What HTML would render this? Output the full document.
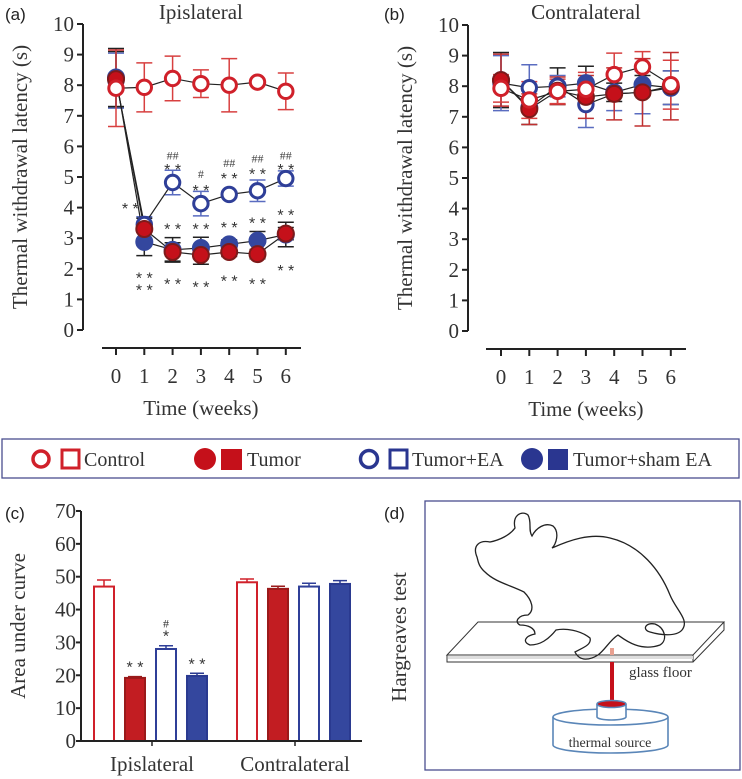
<!DOCTYPE html>
<html><head><meta charset="utf-8"><style>
html,body{margin:0;padding:0;background:#fff;overflow:hidden;width:742px;height:779px}
svg{display:block;font-family:"Liberation Serif",serif}
.sans{font-family:"Liberation Sans",sans-serif}
</style></head><body>
<svg id="fig" width="742" height="779" viewBox="0 0 742 779">
<g id="pa"></g>
<g id="pb"></g>
<g id="leg">
 <rect x="2" y="439" width="737" height="39" fill="none" stroke="#4a4f8f" stroke-width="1.3"/>
 <g>
  <circle cx="41" cy="459" r="8" fill="#fff" stroke="#d0202a" stroke-width="3.5"/>
  <rect x="62" y="450" width="17" height="18" fill="#fff" stroke="#d0202a" stroke-width="3"/>
  <text x="84" y="466" font-size="20" fill="#333">Control</text></g>
 <g>
  <circle cx="205" cy="459" r="11" fill="#c5101a"/>
  <rect x="221" y="449" width="21" height="21" fill="#c5101a"/>
  <text x="247" y="466" font-size="20" fill="#333">Tumor</text></g>
 <g>
  <circle cx="369" cy="459" r="8.5" fill="#fff" stroke="#2a3690" stroke-width="3.5"/>
  <rect x="390" y="450" width="17" height="18" fill="#fff" stroke="#2a3690" stroke-width="3"/>
  <text x="412" y="466" font-size="20" fill="#333">Tumor+EA</text></g>
 <g>
  <circle cx="532" cy="459" r="11" fill="#2a3690"/>
  <rect x="548" y="449" width="20" height="21" fill="#2a3690"/>
  <text x="573" y="466" font-size="20" fill="#333">Tumor+sham EA</text></g>
</g>
<g id="pc"></g>
<g id="pd">
 <rect x="425" y="501" width="315" height="269" fill="none" stroke="#4a4f8f" stroke-width="1.3"/>
 <text x="384" y="519" font-size="17" class="sans" fill="#222">(d)</text>
 <text transform="translate(406,637) rotate(-90)" text-anchor="middle" font-size="21" fill="#333">Hargreaves test</text>
 <path fill="#fff" stroke="#333" stroke-width="1" d="M478,622 L724,622 L693,655 L447,655 Z M447,655 L447,662 L693,662 L693,655 M693,662 L724,630 L724,622"/>
 <rect x="448" y="656" width="245" height="3" fill="#ddd"/>
 <path fill="none" stroke="#222" stroke-width="1.3" d="M477,557 C472,545 480,540 490,542 C500,540 510,535 515,528 C512,515 522,510 528,515 C532,522 528,530 532,536 C536,528 545,522 553,526 C560,532 556,545 552,548 C570,540 590,533 610,538 C640,545 660,570 670,595 C676,610 690,620 682,630 C676,637 660,635 650,632 C642,630 645,622 655,624 C665,628 668,640 660,645 C640,652 625,640 618,635 C610,640 605,650 598,655 C590,660 580,662 575,652 C582,648 592,645 590,638 C580,630 565,628 556,630 C548,640 540,645 530,645 C522,642 525,636 535,634 C535,628 528,625 520,625 C514,622 518,615 528,615 C535,610 532,600 524,592 C510,585 495,582 485,572 C478,566 478,560 477,557 Z"/>
 <rect x="610" y="648" width="4" height="7" fill="#e8a090"/>
 <rect x="610" y="662" width="4" height="42" fill="#c5101a"/>
 <text x="629" y="677" font-size="15" fill="#333">glass floor</text>
 <g fill="#fff" stroke="#5a86b8" stroke-width="1.6">
  <path d="M553,717 L553,745 A57.5,8 0 0 0 668,745 L668,717"/>
  <ellipse cx="610.5" cy="717" rx="57.5" ry="8"/>
  <path d="M597,704 L597,717 A14.5,3 0 0 0 626,717 L626,704"/>
  <ellipse cx="611.5" cy="704" rx="14.5" ry="3.5" fill="#c5101a" stroke="#5a86b8"/>
 </g>
 <text x="610" y="747" text-anchor="middle" font-size="14" fill="#333">thermal source</text>
</g>
</svg>
<script>
// ---- Panel A data (Ipsilateral) ----
const weeks = [0,1,2,3,4,5,6];
const aControl = [7.9,7.93,8.22,8.05,8.0,8.1,7.8];
const aControlErr = [1.25,0.8,0.73,0.45,0.87,0.1,0.6];
const aTumor = [8.2,3.3,2.55,2.45,2.55,2.48,3.15];
const aTumorErr = [0.9,0.35,0.3,0.3,0.15,0.15,0.2];
const aEA = [8.15,3.45,4.82,4.13,4.43,4.55,4.95];
const aEAErr = [0.9,0.25,0.4,0.4,0.1,0.35,0.25];
const aSham = [8.25,2.88,2.62,2.68,2.8,2.92,3.12];
const aShamErr = [0.95,0.45,0.4,0.35,0.15,0.3,0.4];
// ---- Panel B data (Contralateral) ----
const bControl = [7.93,7.55,7.83,7.9,8.38,8.63,8.05];
const bControlErr = [0.45,0.6,0.4,0.55,0.7,0.5,0.8];
const bTumor = [8.2,7.25,7.85,7.65,7.75,7.8,8.0];
const bTumorErr = [0.85,0.5,0.45,0.7,0.85,1.1,1.1];
const bEA = [8.1,7.95,8.0,7.4,7.75,7.8,7.95];
const bEAErr = [0.9,0.75,0.35,0.75,0.55,0.7,0.55];
const bSham = [8.2,7.3,8.0,8.1,7.8,8.05,7.95];
const bShamErr = [0.9,0.55,0.6,0.55,0.3,0.3,0.55];
const yTicks = [0,1,2,3,4,5,6,7,8,9,10];
// ---- Panel C data ----
const cGroups = ["Ipislateral","Contralateral"];
const cValues = [[47,19.2,28,19.8],[48.3,46.3,47,47.8]];
const cErrs = [[2,0.4,1,0.8],[1,0.8,1,1]];
const cTicks = [0,10,20,30,40,50,60,70];
const cAnnot = [["","**","#\n*","**"],["","","",""]];
// annotations for panel A: [week, value, text, x offset]
const aStars = [[1,4.02,"**",-14],[1,1.75,"**",0],[1,1.35,"**",0],[2,3.35,"**",0],[2,1.55,"**",0],[3,3.35,"**",0],[3,1.45,"**",0],[4,3.4,"**",0],[4,1.65,"**",0],[5,3.55,"**",0],[5,1.55,"**",0],[6,3.8,"**",0],[6,2.0,"**",0],[2,5.3,"**",0],[3,4.6,"**",0],[4,5.0,"**",0],[5,5.15,"**",0],[6,5.3,"**",0]];
const aHash = [[2,5.7,"##"],[3,5.1,"#"],[4,5.45,"##"],[5,5.6,"##"],[6,5.7,"##"]];

const NS="http://www.w3.org/2000/svg";
function mk(parent,tag,attrs,txt){const e=document.createElementNS(NS,tag);for(const k in attrs)e.setAttribute(k,attrs[k]);if(txt!==undefined)e.textContent=txt;parent.appendChild(e);return e;}

const RED="#d0202a", DRED="#c5101a", BLUE="#2f3f98", FBLUE="#34479e";

function linePanel(g,cfg,series,letter,title){
  const xS=w=>cfg.x0+w*cfg.dx, yS=v=>cfg.y0-v*cfg.dy;
  const ya=mk(g,'line',{x1:cfg.ax,y1:yS(10),x2:cfg.ax,y2:yS(0),stroke:'#222','stroke-width':2});
  
  yTicks.forEach(t=>{
    mk(g,'line',{x1:cfg.ax-6,x2:cfg.ax,y1:yS(t),y2:yS(t),stroke:'#222','stroke-width':2});
    const tl=mk(g,'text',{x:cfg.ax-9,y:yS(t)+7,'text-anchor':'end','font-size':21,fill:'#333'},t);
    
  });
  const xa=mk(g,'line',{x1:cfg.xl0,x2:cfg.xl1,y1:cfg.xay,y2:cfg.xay,stroke:'#222','stroke-width':2});
  
  weeks.forEach(w=>{
    mk(g,'line',{x1:xS(w),x2:xS(w),y1:cfg.xay,y2:cfg.xay+7,stroke:'#222','stroke-width':2});
    const tl=mk(g,'text',{x:xS(w),y:cfg.xay+35,'text-anchor':'middle','font-size':21,fill:'#333'},w);
    
  });
  const xt=mk(g,'text',{x:(xS(0)+xS(6))/2,y:cfg.xay+67,'text-anchor':'middle','font-size':21,fill:'#333'},'Time (weeks)');
  
  const yt=mk(g,'text',{transform:`translate(${cfg.ylx},${yS(5)}) rotate(-90)`,'text-anchor':'middle','font-size':21,fill:'#333'},'Thermal withdrawal latency (s)');
  
  const tt=mk(g,'text',{x:(xS(0)+xS(6))/2,y:19,'text-anchor':'middle','font-size':21,fill:'#333'},title);
  
  const lt=mk(g,'text',{x:cfg.lx,y:20,'font-size':17,'class':'sans',fill:'#222'},letter);
  
  series.forEach(s=>{
    s.vals.forEach((v,i)=>{
      const e=s.err[i], x=xS(weeks[i]);
      const eb=mk(g,'path',{d:`M${x},${yS(v-e)}V${yS(v+e)}M${x-8},${yS(v-e)}H${x+8}M${x-8},${yS(v+e)}H${x+8}`,stroke:s.ec,'stroke-width':1.5,fill:'none'});
      
    });
  });
  series.forEach(s=>{
    const ln=mk(g,'polyline',{points:s.vals.map((v,i)=>xS(weeks[i])+','+yS(v)).join(' '),fill:'none',stroke:'#222','stroke-width':1.2});
    
  });
  series.forEach(s=>{
    s.vals.forEach((v,i)=>{
      const c=mk(g,'circle',{cx:xS(weeks[i]),cy:yS(v),r:s.open?7.2:8,fill:s.fill,stroke:s.stroke,'stroke-width':s.open?3:2});
      
    });
  });
  return {xS,yS};
}

const cfgA={ax:83,x0:116,dx:28.3,y0:330,dy:30.6,xl0:102,xl1:301,xay:348,ylx:27,lx:5};
const sA=[
 {name:'tumor-sham-ea',vals:aSham,err:aShamErr,fill:FBLUE,stroke:FBLUE,ec:'#222',open:false},
 {name:'tumor-ea',vals:aEA,err:aEAErr,fill:'#fff',stroke:BLUE,ec:'#5a6cc0',open:true},
 {name:'tumor',vals:aTumor,err:aTumorErr,fill:DRED,stroke:'#7e1a1a',ec:'#222',open:false},
 {name:'control',vals:aControl,err:aControlErr,fill:'#fff',stroke:RED,ec:'#d84040',open:true}];
const pa=document.getElementById('pa');
const A=linePanel(pa,cfgA,sA,'(a)','Ipislateral');
aStars.forEach(s=>{const t=mk(pa,'text',{x:A.xS(s[0])+s[3],y:A.yS(s[1])+7,'text-anchor':'middle','font-size':16,fill:'#333','class':'sans'},s[2].replace('**','* *'));
 });
aHash.forEach(s=>{const t=mk(pa,'text',{x:A.xS(s[0]),y:A.yS(s[1])+4,'text-anchor':'middle','font-size':12,fill:'#444'},s[2]);
 });

const cfgB={ax:468,x0:501,dx:28.3,y0:331,dy:30.6,xl0:486,xl1:686,xay:349,ylx:412,lx:384};
const sB=[
 {name:'tumor-sham-ea',vals:bSham,err:bShamErr,fill:FBLUE,stroke:FBLUE,ec:'#222',open:false},
 {name:'tumor-ea',vals:bEA,err:bEAErr,fill:'#fff',stroke:BLUE,ec:'#5a6cc0',open:true},
 {name:'tumor',vals:bTumor,err:bTumorErr,fill:DRED,stroke:'#7e1a1a',ec:'#c03030',open:false},
 {name:'control',vals:bControl,err:bControlErr,fill:'#fff',stroke:RED,ec:'#d84040',open:true}];
linePanel(document.getElementById('pb'),cfgB,sB,'(b)','Contralateral');

// Panel C
(function(){
 const g=document.getElementById('pc');
 const ax=81, y0=741, dy=3.286;
 const yS=v=>y0-v*dy;
 const groupX=[152,295], barW=22, offs=[-59,-28,3,34];
 const styles=[{f:'#fff',s:RED,n:'control'},{f:'#c21d22',s:'#9a1a1a',n:'tumor'},{f:'#fff',s:BLUE,n:'tumor-ea'},{f:'#34479e',s:'#2a3a90',n:'tumor-sham-ea'}];
 const la=mk(g,'line',{x1:ax,x2:ax,y1:yS(70),y2:y0,stroke:'#222','stroke-width':2});
 
 cTicks.forEach(t=>{mk(g,'line',{x1:ax-5,x2:ax,y1:yS(t),y2:yS(t),stroke:'#222','stroke-width':2});
  const tl=mk(g,'text',{x:ax-5,y:yS(t)+7,'text-anchor':'end','font-size':21,fill:'#333'},t);
  });
 cGroups.forEach((gn,gi)=>{
  cValues[gi].forEach((v,i)=>{
   const x=groupX[gi]+offs[i], st=styles[i], e=cErrs[gi][i];
   const cx=x+barW/2;
   const eb=mk(g,'path',{d:`M${cx},${yS(v)}V${yS(v+e)}M${cx-7},${yS(v+e)}H${cx+7}`,stroke:st.s,'stroke-width':1.5,fill:'none'});
   
   const r=mk(g,'rect',{x:x+1,y:yS(v),width:barW-2,height:v*dy,fill:st.f,stroke:st.s,'stroke-width':2});
   
   const an=cAnnot[gi][i];
   if(an){an.split('\n').reverse().forEach((ln,k)=>{
     const t=mk(g,'text',{x:cx,y:yS(v+e)-4-k*14,'text-anchor':'middle','font-size':ln.includes('#')?12:16,fill:'#333','class':ln.includes('#')?'':'sans'},ln.replace('**','* *'));
     });}
  });
  mk(g,'line',{x1:groupX[gi],x2:groupX[gi],y1:y0,y2:y0+5,stroke:'#222','stroke-width':1.5});
  const tl=mk(g,'text',{x:groupX[gi],y:771,'text-anchor':'middle','font-size':21,fill:'#333'},gn);
  
 });
 const xa=mk(g,'line',{x1:ax,x2:362,y1:y0,y2:y0,stroke:'#222','stroke-width':2});
 
 const yt=mk(g,'text',{transform:`translate(25,${yS(35)}) rotate(-90)`,'text-anchor':'middle','font-size':21,fill:'#333'},'Area under curve');
 
 const lt=mk(g,'text',{x:5,y:519,'font-size':17,'class':'sans',fill:'#222'},'(c)');
 
})();
</script>
</body></html>
